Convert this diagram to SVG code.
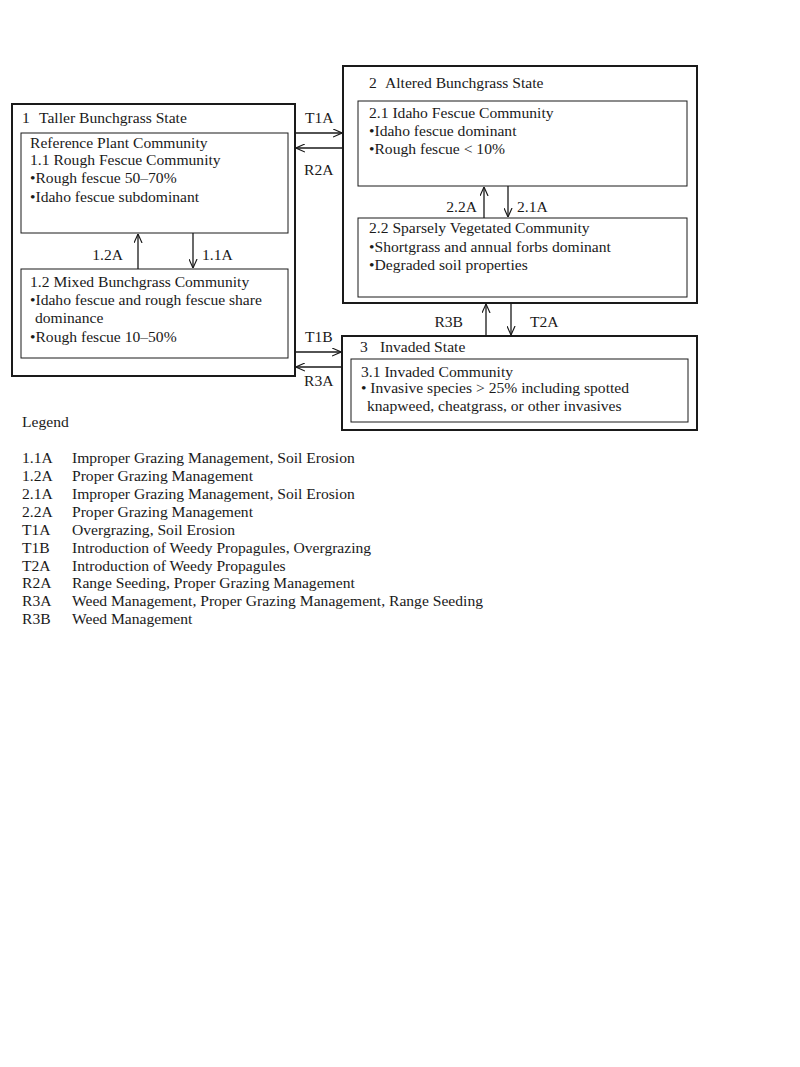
<svg xmlns="http://www.w3.org/2000/svg" width="800" height="1067" viewBox="0 0 800 1067">
<style>
text{font-family:"Liberation Serif","Times New Roman",serif;font-size:15.6px;fill:#1a1a1a}
.outer{fill:none;stroke:#1a1a1a;stroke-width:2}
.inner{fill:#fff;stroke:#1a1a1a;stroke-width:1}
.conn{stroke:#1a1a1a;stroke-width:1.3;fill:none;marker-end:url(#ah)}
</style>
<defs>
<marker id="ah" viewBox="0 0 10 10" refX="10" refY="5" markerWidth="9" markerHeight="9" markerUnits="userSpaceOnUse" orient="auto">
<polyline points="0,0.5 10,5 0,9.5" fill="none" stroke="#1a1a1a" stroke-width="1.3"/>
</marker>
</defs>
<rect width="800" height="1067" fill="#fff"/>
<g id="state1">
<rect class="outer" x="12" y="104" width="283" height="272"/>
<text x="22" y="123">1</text><text x="39" y="123">Taller Bunchgrass State</text>
</g>
<g id="c11">
<rect class="inner" x="21" y="133" width="267" height="100"/>
<text x="30" y="148">Reference Plant Community</text>
<text x="30" y="165">1.1 Rough Fescue Community</text>
<text x="30" y="183">•Rough fescue 50–70%</text>
<text x="30" y="202">•Idaho fescue subdominant</text>
</g>
<g id="c12">
<rect class="inner" x="21" y="269" width="267" height="89"/>
<text x="30" y="287">1.2 Mixed Bunchgrass Community</text>
<text x="30" y="305">•Idaho fescue and rough fescue share</text>
<text x="35" y="323">dominance</text>
<text x="30" y="342">•Rough fescue 10–50%</text>
</g>
<g id="state2">
<rect class="outer" x="343" y="66" width="354" height="237"/>
<text x="369" y="88">2</text><text x="385" y="88">Altered Bunchgrass State</text>
</g>
<g id="c21">
<rect class="inner" x="358" y="101" width="329" height="85"/>
<text x="369" y="118">2.1 Idaho Fescue Community</text>
<text x="369" y="136">•Idaho fescue dominant</text>
<text x="369" y="154">•Rough fescue &lt; 10%</text>
</g>
<g id="c22">
<rect class="inner" x="358" y="218" width="329" height="79"/>
<text x="369" y="233">2.2 Sparsely Vegetated Community</text>
<text x="369" y="252">•Shortgrass and annual forbs dominant</text>
<text x="369" y="270">•Degraded soil properties</text>
</g>
<g id="state3">
<rect class="outer" x="342" y="336" width="355" height="94"/>
<text x="360" y="352">3</text><text x="380" y="352">Invaded State</text>
</g>
<g id="c31">
<rect class="inner" x="351" y="359" width="337" height="63"/>
<text x="361" y="377">3.1 Invaded Community</text>
<text x="361" y="393">• Invasive species &gt; 25% including spotted</text>
<text x="367" y="411">knapweed, cheatgrass, or other invasives</text>
</g>
<g id="connectors">
<line class="conn" x1="138" y1="269" x2="138" y2="234"/>
<line class="conn" x1="193" y1="233" x2="193" y2="268"/>
<line class="conn" x1="295" y1="133" x2="342" y2="133"/>
<line class="conn" x1="343" y1="148" x2="296" y2="148"/>
<line class="conn" x1="295" y1="352" x2="341" y2="352"/>
<line class="conn" x1="342" y1="367" x2="296" y2="367"/>
<line class="conn" x1="484" y1="218" x2="484" y2="187"/>
<line class="conn" x1="508" y1="186" x2="508" y2="217"/>
<line class="conn" x1="486" y1="336" x2="486" y2="304"/>
<line class="conn" x1="511" y1="303" x2="511" y2="335"/>
<text x="123" y="260" text-anchor="end">1.2A</text>
<text x="202" y="260">1.1A</text>
<text x="305" y="123">T1A</text>
<text x="304" y="175">R2A</text>
<text x="305" y="342">T1B</text>
<text x="304" y="386">R3A</text>
<text x="477" y="212" text-anchor="end">2.2A</text>
<text x="517" y="212">2.1A</text>
<text x="463" y="327" text-anchor="end">R3B</text>
<text x="530" y="327">T2A</text>
</g>
<g id="legend">
<text x="22" y="427">Legend</text>
<text x="22" y="463">1.1A</text><text x="72" y="463">Improper Grazing Management, Soil Erosion</text>
<text x="22" y="481">1.2A</text><text x="72" y="481">Proper Grazing Management</text>
<text x="22" y="499">2.1A</text><text x="72" y="499">Improper Grazing Management, Soil Erosion</text>
<text x="22" y="517">2.2A</text><text x="72" y="517">Proper Grazing Management</text>
<text x="22" y="535">T1A</text><text x="72" y="535">Overgrazing, Soil Erosion</text>
<text x="22" y="553">T1B</text><text x="72" y="553">Introduction of Weedy Propagules, Overgrazing</text>
<text x="22" y="571">T2A</text><text x="72" y="571">Introduction of Weedy Propagules</text>
<text x="22" y="588">R2A</text><text x="72" y="588">Range Seeding, Proper Grazing Management</text>
<text x="22" y="606">R3A</text><text x="72" y="606">Weed Management, Proper Grazing Management, Range Seeding</text>
<text x="22" y="624">R3B</text><text x="72" y="624">Weed Management</text>
</g>
</svg>
